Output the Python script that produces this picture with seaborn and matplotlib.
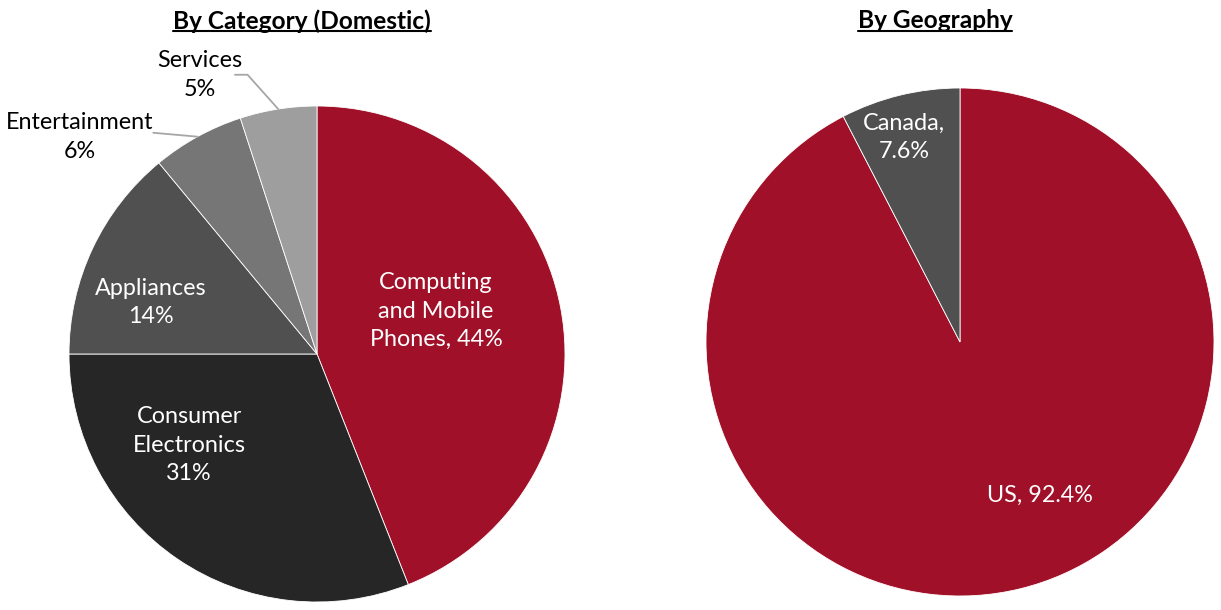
"""
Two pie charts: revenue split by category (domestic) and by geography.
"""
import numpy  as np
import matplotlib.pyplot as plt
from matplotlib.lines import Line2D
import seaborn           as sns


# ================================================================================
# Data
# ================================================================================
category_names  = ["Computing and Mobile Phones", "Consumer Electronics", "Appliances",
                   "Entertainment", "Services"]
category_shares = [44, 31, 14, 6, 5]
category_labels = ["Computing\nand Mobile\nPhones, 44%", "Consumer\nElectronics\n31%",
                   "Appliances\n14%", "Entertainment\n6%", "Services\n5%"]

geo_names  = ["US", "Canada"]
geo_shares = [92.4, 7.6]
geo_labels = ["US, 92.4%", "Canada,\n7.6%"]

# ================================================================================
# Styling
# ================================================================================
RED   = "#A01028"
cat_colors = [RED, "#262626", "#505050", "#767676", "#9E9E9E"]
geo_colors = [RED, "#505050"]

sns.set_theme(style="white")
plt.rcParams["font.family"] = ["Lato", "DejaVu Sans"]

LABEL_SIZE = 16.8
TITLE_SIZE = 17.6
LINE_SPACE = 1.42

fig = plt.figure(figsize=(12.21, 6.10), dpi=100)

# pixel boxes -> figure fractions
W, H = 1221, 610
def px_axes(cx, cy, r):
    return fig.add_axes([(cx - r) / W, (H - cy - r) / H, 2 * r / W, 2 * r / H])

ax1 = px_axes(317, 354, 248)
ax2 = px_axes(960, 342, 254)


def draw_pie(ax, shares, colors):
    wedges, _ = ax.pie(
        shares,
        colors       = colors,
        startangle   = 90,
        counterclock = False,
        radius       = 1,
        wedgeprops   = dict(edgecolor="white", linewidth=0.6),
    )
    ax.set_xlim(-1, 1)
    ax.set_ylim(-1, 1)
    ax.set_aspect("equal")
    ax.axis("off")
    return wedges


w1 = draw_pie(ax1, category_shares, cat_colors)
w2 = draw_pie(ax2, geo_shares, geo_colors)

# label positions (axes data units) -- inside labels in white, outside in black
cat_pos = [(0.48, 0.173), (-0.516, -0.367), (-0.669, 0.206), (-0.956, 0.875), (-0.473, 1.125)]
cat_col = ["white", "white", "white", "black", "black"]
for lab, (x, y), c in zip(category_labels, cat_pos, cat_col):
    ax1.text(x, y, lab, ha="center", va="center", color=c, fontsize=LABEL_SIZE,
             linespacing=LINE_SPACE, clip_on=False)

# leader lines for the two small slices: to the middle of the wedge's outer edge
def edge_mid(w):
    ang = np.deg2rad((w.theta1 + w.theta2) / 2)
    return np.cos(ang), np.sin(ang)

ex, ey = edge_mid(w1[3])
ax1.add_line(Line2D([-0.66, ex], [0.892, ey], color="#A6A6A6", lw=1.3, clip_on=False))
sx, sy = edge_mid(w1[4])
ax1.add_line(Line2D([-0.331, -0.28, sx], [1.126, 1.126, sy], color="#A6A6A6", lw=1.3,
                    clip_on=False))

geo_pos = [(0.315, -0.602), (-0.22, 0.807)]
for lab, (x, y) in zip(geo_labels, geo_pos):
    ax2.text(x, y, lab, ha="center", va="center", color="white", fontsize=LABEL_SIZE,
             linespacing=LINE_SPACE)

# ================================================================================
# Underlined bold titles
# ================================================================================
def underlined_title(x_px, title):
    t = fig.text(x_px / W, 1 - 21 / H, title, ha="center", va="center",
                 fontsize=TITLE_SIZE, fontweight="bold", color="black")
    fig.canvas.draw()
    bb = t.get_window_extent().transformed(fig.transFigure.inverted())
    fig.add_artist(Line2D([bb.x0, bb.x1], [bb.y0 + 0.003, bb.y0 + 0.003],
                          color="black", lw=1.5, transform=fig.transFigure))

underlined_title(302, "By Category (Domestic)")
underlined_title(935, "By Geography")

fig.savefig("out.png", dpi=100, facecolor="white")
